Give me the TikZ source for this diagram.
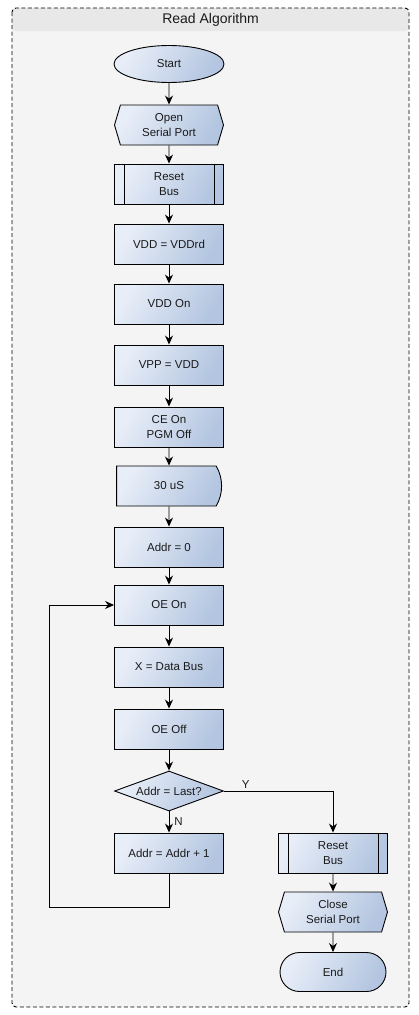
\documentclass[tikz,border=0pt]{standalone}
\usepackage{fontspec}
\setmainfont{Liberation Sans}
\usepackage{tikz}
\usetikzlibrary{
  arrows.meta,
  shapes.geometric,
  shapes.symbols,
  shapes.misc,
  positioning,
  calc
}
\definecolor{raFrame}{HTML}{F4F4F4}
\definecolor{raTitle}{HTML}{E8E8E8}
\definecolor{raBoxL}{HTML}{E8EEF8}
\definecolor{raBoxR}{HTML}{B3C5E0}
\definecolor{raInk}{HTML}{1A1A1A}
\tikzset{
  ranode/.style={
    draw=black, line width=0.9pt, minimum width=109pt, minimum height=40pt,
    inner sep=2pt, font=\fontsize{11.5}{15}\selectfont, align=center, text=raInk,
    left color=raBoxL, right color=raBoxR, shading angle=60
  },
  proc/.style={ranode, rectangle},
  subproc/.style={ranode, rectangle},
  term/.style={ranode, ellipse, minimum width=110pt, minimum height=37pt},
  prep/.style={ranode, signal, signal to=west and east, signal pointer angle=147},
  delay/.style={ranode, rounded rectangle, rounded rectangle left arc=none,
    rounded rectangle arc length=60},
  stopnode/.style={ranode, rounded rectangle, minimum width=110pt, minimum height=39pt},
  decide/.style={ranode, diamond, shape aspect=2.7, inner sep=0pt},
  link/.style={-{Stealth[length=9pt, width=8pt, inset=3pt]}, line width=0.9pt, black},
  lbl/.style={font=\fontsize{11.5}{14}\selectfont, text=raInk, inner sep=2pt},
  frame/.style={draw=black, line width=0.9pt, dash pattern=on 4pt off 2.5pt, rounded corners=4pt}
}

\begin{document}
\begin{tikzpicture}[x=1pt, y=-1pt]
  \useasboundingbox (0,0) rectangle (419,1015);
  % frame and title band
  \fill[raFrame, rounded corners=4pt] (12,8) rectangle (409,1007);
  \fill[raTitle, rounded corners=4pt] (12,31) -- (12,8) -- (409,8) -- (409,31) -- cycle;
  \draw[frame] (12,8) rectangle (409,1007);
  \node[lbl, font=\fontsize{14}{16}\selectfont] (title) at (210.5,20) {Read Algorithm};

  % main column
  \node[term] (start) at (169,64) {Start};
  \node[prep] (openport) at (169,125) {Open\\Serial Port};
  \node[subproc] (rbus1) at (169,184) {Reset\\Bus};
  \foreach \y/\id/\lbl in {
    244/vddrd/{VDD = VDDrd},
    304/vddon/{VDD On},
    365/vpp/{VPP = VDD},
    427/ceon/{CE On\\PGM Off},
    547/addr0/{Addr = 0},
    605/oeon/{OE On},
    667/xdata/{X = Data Bus},
    729/oeoff/{OE Off},
    853/addrinc/{Addr = Addr + 1}}{
    \node[proc] (\id) at (169,\y) {\lbl};
  }
  \node[delay] (wait) at (169,486) {30 uS};
  \node[decide] (last) at (169,791) {Addr = Last?};

  % right column
  \node[subproc] (rbus2) at (333,853) {Reset\\Bus};
  \node[prep] (closeport) at (333,912) {Close\\Serial Port};
  \node[stopnode] (stop) at (333,972) {End};

  \foreach \n in {rbus1, rbus2}{
    \draw[line width=0.9pt] ([xshift=10pt]\n.north west) -- ([xshift=10pt]\n.south west);
    \draw[line width=0.9pt] ([xshift=-10pt]\n.north east) -- ([xshift=-10pt]\n.south east);
  }

  \foreach \a/\b in {start/openport, openport/rbus1, rbus1/vddrd, vddrd/vddon,
    vddon/vpp, vpp/ceon, ceon/wait, wait/addr0, addr0/oeon, oeon/xdata,
    xdata/oeoff, oeoff/last, rbus2/closeport, closeport/stop}{
    \draw[link] (\a) -- (\b);
  }

  \draw[link] (last) -- node[lbl, right=3pt] {N} (addrinc);
  \draw[link] (last.east) -| node[lbl, pos=0.1, above] {Y} (rbus2.north);

  \coordinate (loopc) at (49,907);
  \draw[link] (addrinc.south) |- (loopc) |- (oeon.west);
\end{tikzpicture}
\end{document}
